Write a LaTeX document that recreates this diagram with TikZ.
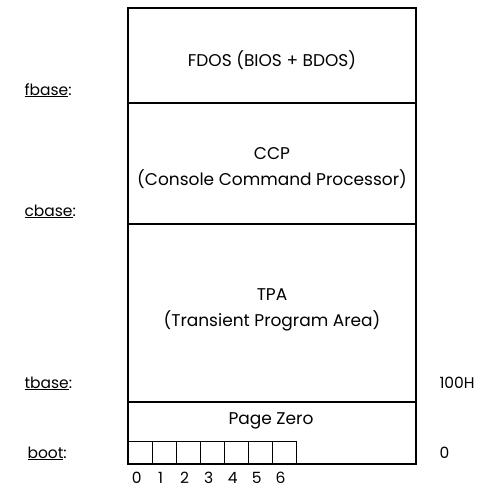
\documentclass[tikz,border=0pt]{standalone}
\usepackage{fontspec}
\setmainfont{Poppins}
\usepackage{tikz}
\usetikzlibrary{positioning,calc}

\begin{document}
\begin{tikzpicture}[
  x=1pt,y=-1pt,
  region/.style={draw,line width=1.6pt,minimum width=288pt,inner sep=0pt,outer sep=0pt},
  txt/.style={align=center,font=\fontsize{17}{26}\selectfont},
  addr/.style={anchor=base west,font=\fontsize{15.5}{18}\selectfont},
  cell/.style={draw,line width=1.3pt,minimum width=24pt,minimum height=22pt,inner sep=0pt,anchor=south west},
  idx/.style={inner sep=0pt,font=\fontsize{15.5}{18}\selectfont}
]
\useasboundingbox (0,0) rectangle (484,493);
% memory regions, top to bottom
\node[region,minimum height=95pt] (fdos) at (272,55.5) {};
\node[region,minimum height=121pt,below=0pt of fdos] (ccp) {};
\node[region,minimum height=178pt,below=0pt of ccp] (tpa) {};
\node[region,minimum height=62pt,below=0pt of tpa] (zero) {};
\node[txt] (fdostxt) at ([yshift=-5pt]fdos.center) {FDOS (BIOS + BDOS)};
\node[txt] (ccptxt) at ([yshift=-5pt]ccp.center) {CCP\\(Console Command Processor)};
\node[txt] (tpatxt) at ([yshift=3pt]tpa.center) {TPA\\(Transient Program Area)};
\node[txt] (zerotxt) at (271,421) {Page Zero};
% boot bytes
\foreach \i in {0,...,6}{
  \node[cell] (b\i) at ($(zero.south west)+(24*\i,0)$) {};
  \node[idx,below=8pt of b\i,xshift=-4pt] (n\i) {\i};
}
% labels on the left
\node[addr] (fbase) at (21,95) {\underline{fbase}:};
\node[addr] (cbase) at (21,216) {\underline{cbase}:};
\node[addr] (tbase) at (21,388) {\underline{tbase}:};
\node[addr] (boot) at (24,458) {\underline{boot}:};
% addresses on the right
\node[addr] (hundred) at (436,388) {100H};
\node[addr] (nought) at (436,458) {0};
\end{tikzpicture}
\end{document}
